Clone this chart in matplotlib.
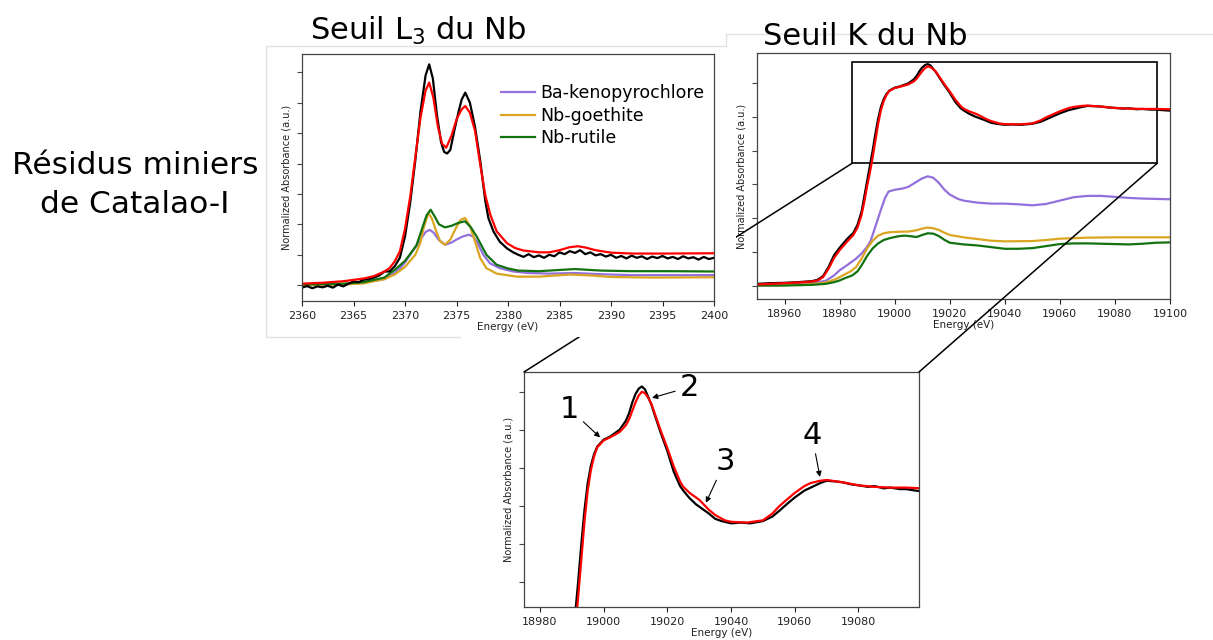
import numpy as np
import matplotlib
matplotlib.use("Agg")
import matplotlib.pyplot as plt
from matplotlib.patches import Rectangle, ConnectionPatch
from matplotlib.lines import Line2D

# ---- Seuil L3 (Nb) ----
l3_e_fit = [2360, 2362, 2364, 2366, 2367, 2368, 2368.5, 2369, 2369.5, 2370, 2370.5, 2371, 2371.5,
            2372, 2372.35, 2372.75, 2373.2, 2373.6, 2374, 2374.5, 2375, 2375.5, 2375.85, 2376.3,
            2376.8, 2377.3, 2377.8, 2378.3, 2378.9, 2379.9, 2380.7, 2381.5, 2383, 2384, 2385,
            2386, 2386.8, 2387.5, 2388.5, 2390, 2392, 2395, 2400]
l3_fit = [0.05, 0.08, 0.13, 0.22, 0.3, 0.45, 0.56, 0.78, 1.11, 1.85, 2.9, 4.2, 5.5,
          6.4, 6.66, 6.17, 5.2, 4.65, 4.52, 4.9, 5.45, 5.78, 5.89, 5.67,
          5.07, 3.97, 2.95, 2.3, 1.77, 1.38, 1.22, 1.14, 1.08, 1.08, 1.15,
          1.25, 1.28, 1.24, 1.15, 1.07, 1.04, 1.04, 1.05]

l3_e_exp = [2360, 2360.5, 2361, 2361.5, 2362, 2362.5, 2363, 2363.5, 2364, 2364.5, 2365, 2365.5,
            2366, 2366.5, 2367, 2367.5, 2368, 2368.5, 2369, 2369.5, 2370, 2370.5, 2371, 2371.5,
            2372, 2372.35, 2372.7, 2373.1, 2373.5, 2373.8, 2374.1, 2374.4, 2374.8, 2375.2,
            2375.5, 2375.85, 2376.3, 2376.8, 2377.3, 2377.8, 2378.1, 2378.6, 2379.2, 2379.9,
            2380.5, 2381.0, 2381.5, 2382.0, 2382.5, 2383.0, 2383.5, 2384.0, 2384.5, 2385.0,
            2385.5, 2386.0, 2386.5, 2387.0, 2387.5, 2388.0, 2388.5, 2389.0, 2389.5, 2390.0,
            2390.5, 2391.0, 2391.5, 2392.0, 2392.5, 2393.0, 2393.5, 2394.0, 2394.5, 2395.0,
            2395.5, 2396.0, 2396.5, 2397.0, 2397.5, 2398.0, 2398.5, 2399.0, 2399.5, 2400.0]
l3_exp = [-0.08, -0.03, -0.1, -0.04, -0.07, -0.02, -0.08, 0.02, -0.04, 0.05, 0.12, 0.1,
          0.18, 0.2, 0.25, 0.32, 0.45, 0.45, 0.62, 0.9, 1.6, 2.7, 4.1, 5.7,
          6.9, 7.26, 6.8, 5.6, 4.7, 4.38, 4.33, 4.45, 5.1, 5.7,
          6.1, 6.33, 6.0, 5.2, 4.1, 2.76, 2.2, 1.76, 1.43, 1.21,
          1.08, 1.00, 0.93, 1.02, 0.92, 0.98, 0.90, 1.00, 0.95, 1.08,
          1.02, 1.12, 1.06, 1.15, 1.02, 1.08, 0.98, 1.02, 0.94, 1.00,
          0.90, 0.96, 0.88, 0.97, 0.90, 0.95, 0.86, 0.94, 0.89, 0.96,
          0.88, 0.93, 0.86, 0.95, 0.88, 0.92, 0.84, 0.93, 0.86, 0.90]

l3_e_ba = [2360, 2364, 2366, 2368, 2368.5, 2369, 2369.5, 2370, 2370.5, 2371, 2371.5, 2372, 2372.4,
           2372.8, 2373.3, 2373.9, 2374.5, 2375, 2375.6, 2376.2, 2376.6, 2377, 2377.6, 2378.25,
           2379.2, 2380.5, 2382, 2384, 2386.5, 2389, 2392, 2396, 2400]
l3_ba = [0.0, 0.03, 0.08, 0.2, 0.3, 0.4, 0.55, 0.75, 1.0, 1.25, 1.5, 1.75, 1.82,
         1.72, 1.48, 1.33, 1.4, 1.5, 1.6, 1.66, 1.6, 1.42, 1.0, 0.72,
         0.56, 0.45, 0.4, 0.38, 0.4, 0.36, 0.33, 0.33, 0.33]

l3_e_go = [2360, 2364, 2366, 2368, 2369, 2370, 2370.5, 2371, 2371.5, 2371.8, 2372.27, 2372.6,
           2373, 2373.4, 2373.88, 2374.4, 2374.9, 2375.4, 2375.83, 2376.3, 2376.8, 2377.3,
           2377.9, 2378.9, 2380.9, 2383, 2386, 2388, 2390, 2394, 2400]
l3_go = [0.0, 0.02, 0.06, 0.2, 0.35, 0.6, 0.8, 1.0, 1.4, 1.87, 2.37, 2.2,
         1.8, 1.45, 1.33, 1.5, 1.85, 2.15, 2.21, 1.95, 1.44, 0.89,
         0.56, 0.38, 0.28, 0.28, 0.35, 0.32, 0.27, 0.25, 0.26]

l3_e_ru = [2360, 2364, 2366, 2368, 2368.5, 2369, 2370, 2371.1, 2371.8, 2372.1, 2372.49, 2372.9,
           2373.3, 2373.88, 2374.5, 2375.2, 2375.83, 2376.4, 2376.96, 2377.9, 2378.9, 2380,
           2381, 2383, 2386.5, 2389, 2392, 2396, 2400]
l3_ru = [0.02, 0.05, 0.1, 0.25, 0.38, 0.5, 0.8, 1.3, 2.0, 2.3, 2.48, 2.25,
         2.0, 1.9, 1.95, 2.05, 2.1, 1.9, 1.6, 1.0, 0.67, 0.55,
         0.48, 0.46, 0.53, 0.48, 0.46, 0.46, 0.45]

# ---- Seuil K (Nb) ----
k_e_fit = [18950, 18955, 18960, 18965, 18970, 18972, 18974, 18976, 18978, 18980, 18982.7, 18985,
           18986.5, 18988, 18989, 18990, 18991, 18992, 18993, 18994, 18995, 18996, 18997, 18998,
           19000, 19002, 19005, 19007, 19008, 19009, 19010, 19011, 19012, 19013, 19014, 19015,
           19016, 19018, 19020, 19022, 19024, 19025, 19027, 19030, 19033, 19035, 19038, 19040,
           19045, 19050, 19053, 19055, 19058, 19060, 19063, 19065, 19068, 19070, 19075, 19080,
           19085, 19090, 19095, 19100]
k_fit = [0.03, 0.05, 0.07, 0.09, 0.12, 0.15, 0.25, 0.5, 0.82, 1.05, 1.3, 1.5,
         1.72, 2.1, 2.5, 2.95, 3.35, 3.8, 4.3, 4.8, 5.2, 5.47, 5.65, 5.77,
         5.86, 5.9, 5.97, 6.06, 6.14, 6.25, 6.36, 6.45, 6.5, 6.48, 6.42, 6.34,
         6.22, 5.98, 5.76, 5.52, 5.32, 5.25, 5.17, 5.08, 4.95, 4.88, 4.81, 4.79,
         4.78, 4.81, 4.9, 4.99, 5.1, 5.17, 5.26, 5.3, 5.33, 5.34, 5.31, 5.27,
         5.25, 5.24, 5.24, 5.23]

k_e_exp = [18950, 18955, 18960, 18965, 18970, 18972, 18974, 18976, 18978, 18980, 18982.7, 18985,
           18986.5, 18988, 18989, 18990, 18991, 18992, 18993, 18994, 18995, 18996, 18997, 18998,
           19000, 19002, 19005, 19007, 19008, 19009, 19010, 19011, 19012, 19013, 19014, 19015,
           19016, 19018, 19020, 19022, 19024, 19025, 19027, 19029, 19031, 19033, 19035, 19037,
           19040, 19043, 19046, 19050, 19053, 19055, 19058, 19060, 19063, 19065, 19068, 19070,
           19073, 19075, 19078, 19080, 19083, 19085, 19088, 19090, 19093, 19095, 19098, 19100]
k_exp = [0.05, 0.07, 0.08, 0.1, 0.13, 0.17, 0.28, 0.55, 0.9, 1.12, 1.38, 1.56,
         1.8, 2.2, 2.65, 3.1, 3.55, 4.0, 4.5, 4.95, 5.3, 5.53, 5.68, 5.78,
         5.87, 5.91, 6.0, 6.12, 6.22, 6.36, 6.47, 6.54, 6.57, 6.53, 6.43, 6.33,
         6.2, 5.95, 5.72, 5.45, 5.26, 5.2, 5.1, 5.02, 4.96, 4.9, 4.83, 4.8,
         4.77, 4.78, 4.77, 4.8, 4.86, 4.93, 5.04, 5.11, 5.2, 5.24, 5.3, 5.33,
         5.32, 5.31, 5.28, 5.27, 5.25, 5.26, 5.23, 5.24, 5.22, 5.22, 5.2, 5.19]

k_e_ba = [18950, 18960, 18970, 18975, 18978, 18980, 18983, 18986, 18988, 18990, 18991.2, 18993,
          18994.8, 18996.5, 18997.8, 19000, 19003, 19005, 19008, 19010, 19012, 19014, 19016,
          19018, 19020, 19023, 19025, 19030, 19035, 19040, 19045, 19050, 19055, 19060, 19065,
          19070, 19075, 19080, 19085, 19090, 19095, 19100]
k_ba = [0.0, 0.02, 0.07, 0.14, 0.3, 0.45, 0.62, 0.8, 0.95, 1.15, 1.31, 1.75,
        2.2, 2.6, 2.79, 2.84, 2.88, 2.93, 3.08, 3.18, 3.24, 3.2, 3.05,
        2.85, 2.7, 2.57, 2.52, 2.46, 2.43, 2.43, 2.41, 2.38, 2.42, 2.52, 2.62,
        2.66, 2.66, 2.63, 2.6, 2.58, 2.57, 2.56]

k_e_go = [18950, 18960, 18970, 18975, 18978, 18980, 18984, 18986, 18988, 18990, 18992, 18994,
          18996, 18998, 19000, 19003, 19005, 19008, 19010, 19012, 19014, 19016, 19018, 19020,
          19025, 19030, 19035, 19040, 19050, 19055, 19060, 19070, 19080, 19090, 19100]
k_go = [0.0, 0.01, 0.04, 0.09, 0.17, 0.25, 0.42, 0.55, 0.8, 1.1, 1.33, 1.48,
        1.55, 1.58, 1.59, 1.6, 1.6, 1.64, 1.69, 1.72, 1.7, 1.65, 1.57, 1.5,
        1.43, 1.38, 1.33, 1.31, 1.32, 1.35, 1.39, 1.42, 1.43, 1.43, 1.43]

k_e_ru = [18950, 18960, 18970, 18975, 18978, 18980, 18982, 18984.6, 18986.5, 18988, 18990, 18992,
          18994, 18996, 18998, 19000, 19002, 19004, 19006, 19008, 19010, 19012, 19014, 19016,
          19018, 19020, 19025, 19030, 19035, 19040, 19045, 19050, 19055, 19060, 19065, 19070,
          19080, 19085, 19090, 19095, 19100]
k_ru = [0.0, 0.0, 0.02, 0.05, 0.1, 0.15, 0.22, 0.3, 0.42, 0.6, 0.88, 1.1,
        1.25, 1.35, 1.4, 1.44, 1.47, 1.48, 1.46, 1.44, 1.5, 1.55, 1.54, 1.47,
        1.36, 1.27, 1.22, 1.19, 1.14, 1.09, 1.09, 1.11, 1.17, 1.23, 1.25, 1.25,
        1.23, 1.22, 1.24, 1.27, 1.28]

labels = ["Ba-kenopyrochlore", "Nb-goethite", "Nb-rutile"]
c_ba, c_go, c_ru = "#9370db", "#daa520", "#12720f"

W, H = 1213, 640
fig = plt.figure(figsize=(W / 100, H / 100), dpi=100)


def fx(px):
    return px / W


def fy(py):
    return 1 - py / H


def style(ax, xticks):
    ax.set_xticks(xticks)
    ax.tick_params(axis="x", labelsize=8, colors="#222222", length=3.5, width=0.8)
    ax.tick_params(axis="y", labelleft=False, length=3.5, width=0.8, colors="#444444")
    for s in ax.spines.values():
        s.set_color("#444444")
        s.set_linewidth(0.9)
    ax.set_xlabel("Energy (eV)", fontsize=7.5, labelpad=1, color="#222222")
    ax.set_ylabel("Normalized Absorbance (a.u.)", fontsize=7, labelpad=4, color="#222222")


# white card of the L3 panel (hides part of the connecting line)
card = Rectangle((fx(266), fy(337)), fx(736 - 266), (337 - 46) / H, transform=fig.transFigure,
                 facecolor="white", edgecolor="none", zorder=1.5)
fig.add_artist(card)
edge = "#e2e2e2"
for xs, ys in [((266, 266), (46, 337)), ((266, 726), (46, 46)), ((266, 460), (337, 337)),
               ((726, 726), (34, 46)), ((726, 1213), (34, 34))]:
    fig.add_artist(Line2D([fx(x) for x in xs], [fy(y) for y in ys], color=edge, lw=1,
                          transform=fig.transFigure, zorder=1.6))

# ---- L3 panel ----
ax1 = fig.add_axes([fx(302), fy(301), fx(714 - 302), (301 - 54) / H])
ax1.set_zorder(2)
ax1.plot(l3_e_ba, l3_ba, color=c_ba, lw=1.6, label=labels[0])
ax1.plot(l3_e_go, l3_go, color=c_go, lw=1.6, label=labels[1])
ax1.plot(l3_e_ru, l3_ru, color=c_ru, lw=1.6, label=labels[2])
ax1.plot(l3_e_exp, l3_exp, color="black", lw=1.6)
ax1.plot(l3_e_fit, l3_fit, color="red", lw=1.6)
ax1.set_xlim(2360, 2400)
ax1.set_ylim(-0.52, 7.6)
ax1.set_yticks(range(0, 8))
style(ax1, range(2360, 2401, 5))
ax1.legend(loc="upper left", bbox_to_anchor=(0.465, 0.905), frameon=False, fontsize=12.5,
           handlelength=2.0, handletextpad=0.3, labelspacing=0.25, borderaxespad=0)

# ---- K panel ----
ax2 = fig.add_axes([fx(757), fy(299), fx(1170 - 757), (299 - 53) / H])
ax2.plot(k_e_ba, k_ba, color=c_ba, lw=1.6)
ax2.plot(k_e_go, k_go, color=c_go, lw=1.6)
ax2.plot(k_e_ru, k_ru, color=c_ru, lw=1.6)
ax2.plot(k_e_exp, k_exp, color="black", lw=1.6)
ax2.plot(k_e_fit, k_fit, color="red", lw=1.6)
ax2.set_xlim(18950, 19100)
ax2.set_ylim(-0.4, 6.9)
ax2.set_yticks(range(0, 7))
style(ax2, range(18960, 19101, 20))
ax2.add_patch(Rectangle((18984.6, 3.63), 110.8, 3.0, fill=False, lw=1.2, edgecolor="black"))

# ---- zoom panel ----
ax3 = fig.add_axes([fx(524), fy(607), fx(919 - 524), (607 - 372) / H])
ax3.plot(k_e_exp, k_exp, color="black", lw=1.6)
ax3.plot(k_e_fit, k_fit, color="red", lw=1.6)
ax3.set_xlim(18975, 19099)
ax3.set_ylim(3.67, 6.76)
ax3.set_yticks([4.0, 4.5, 5.0, 5.5, 6.0, 6.5])
style(ax3, range(18980, 19081, 20))

arrow = dict(arrowstyle="-|>", color="black", lw=0.8, mutation_scale=8, shrinkA=1, shrinkB=0)
for txt, tip, pos in [("1", (18998.9, 5.9), (18989.4, 6.27)),
                      ("2", (19015.2, 6.42), (19026.8, 6.56)),
                      ("3", (19032.1, 5.04), (19038.1, 5.58)),
                      ("4", (19067.9, 5.38), (19065.4, 5.93))]:
    ax3.annotate(txt, xy=tip, xytext=pos, fontsize=22, ha="center", va="center",
                 arrowprops=arrow)

# connecting lines from the box to the zoom panel
for xa, xb in [(18984.6, 0), (19095.4, 1)]:
    cp = ConnectionPatch(xyA=(xa, 3.63), coordsA=ax2.transData, xyB=(xb, 1),
                         coordsB=ax3.transAxes, color="black", lw=1.1, zorder=1)
    fig.add_artist(cp)

# titles and side label
fig.text(fx(310), fy(40), "Seuil L$_3$ du Nb", fontsize=22, ha="left", va="baseline")
fig.text(fx(763), fy(45), "Seuil K du Nb", fontsize=22, ha="left", va="baseline")
fig.text(fx(135), fy(185), "Résidus miniers\nde Catalao-I", fontsize=22.5, ha="center",
         va="center", linespacing=1.4)

plt.savefig("out.png", dpi=100)
